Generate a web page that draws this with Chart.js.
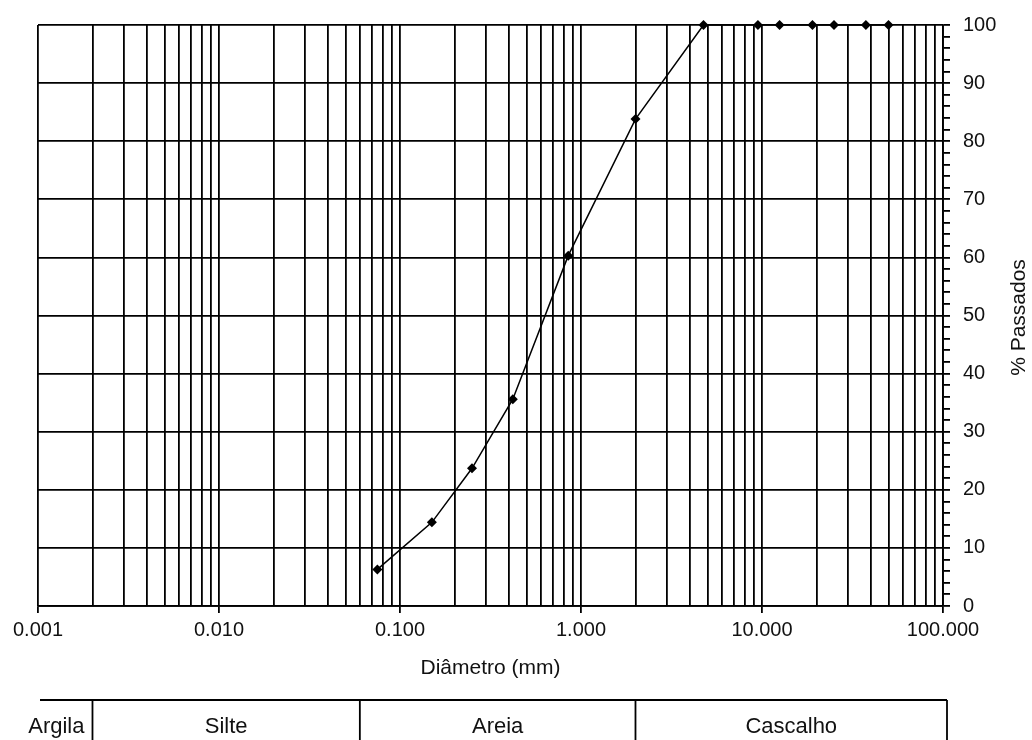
<!DOCTYPE html>
<html>
<head>
<meta charset="utf-8">
<title>Curva granulométrica</title>
<script src="https://cdn.jsdelivr.net/npm/chart.js@4"></script>
<style>
  html, body { margin: 0; padding: 0; background: #fff; }
  #grafico { display: block; }
</style>
</head>
<body>
<canvas id="grafico" width="1032" height="740"></canvas>
<script>
// Abertura das peneiras (mm) e porcentagem acumulada que passa
const diametros = [0.075, 0.15, 0.25, 0.42, 0.85, 2.0, 4.75, 9.5, 12.5, 19, 25, 37.5, 50];
const passados  = [6.3, 14.4, 23.7, 35.6, 60.3, 83.8, 100, 100, 100, 100, 100, 100, 100];

// Décadas do eixo logarítmico e subdivisões de cada década
const decadas = [0.001, 0.01, 0.1, 1, 10, 100];
const multiplicadores = [1, 2, 3, 4, 5, 6, 7, 8, 9];

// Faixa de classificação do solo e seus limites (mm)
const classes = ['Argila', 'Silte', 'Areia', 'Cascalho'];
const limites = [0.002, 0.06, 2.0];

const FONTE = '"Liberation Sans", Arial, sans-serif';
const COR_TEXTO = '#111';
const ESPESSURA_GRADE = 1.8;
Chart.defaults.font.family = FONTE;

const gradeX = decadas.slice(0, -1)
  .flatMap(d => multiplicadores.map(m => +(d * m).toPrecision(6)))
  .concat(decadas.slice(-1));

const ehDecada = v => {
  const l = Math.log10(v);
  return Math.abs(l - Math.round(l)) < 1e-6;
};

// Tabela de classificação abaixo do eixo e título vertical do eixo da direita
const tabela = {
  id: 'tabela',
  afterDraw(chart) {
    const ctx = chart.ctx;
    const x = chart.scales.x;
    const area = chart.chartArea;
    const topo = 700, base = 740;
    const esq = area.left + 2, dir = area.right + 4;
    const divisoes = limites.map(v => x.getPixelForValue(v));

    ctx.save();
    ctx.strokeStyle = '#000';
    ctx.lineWidth = ESPESSURA_GRADE;
    ctx.beginPath();
    ctx.moveTo(esq, topo);
    ctx.lineTo(dir, topo);
    [...divisoes, dir].forEach(px => {
      ctx.moveTo(px, topo);
      ctx.lineTo(px, base);
    });
    ctx.stroke();

    ctx.font = '22px ' + FONTE;
    ctx.fillStyle = COR_TEXTO;
    ctx.textBaseline = 'middle';
    const bordas = [esq, ...divisoes, dir];
    classes.forEach((c, i) => {
      if (i === 0) {
        ctx.textAlign = 'right';
        ctx.fillText(c, bordas[1] - 8, 727);
      } else {
        ctx.textAlign = 'center';
        ctx.fillText(c, (bordas[i] + bordas[i + 1]) / 2, 727);
      }
    });

    ctx.translate(1019, (area.top + area.bottom) / 2 + 2);
    ctx.rotate(-Math.PI / 2);
    ctx.font = '21px ' + FONTE;
    ctx.textAlign = 'center';
    ctx.fillText('% Passados', 0, 0);
    ctx.restore();
  }
};

new Chart(document.getElementById('grafico'), {
  type: 'line',
  data: {
    datasets: [{
      data: diametros.map((d, i) => ({ x: d, y: passados[i] })),
      borderColor: '#000',
      borderWidth: 1.5,
      tension: 0,
      pointStyle: 'rectRot',
      pointRadius: 5,
      pointBackgroundColor: '#000',
      pointBorderColor: '#000',
      pointBorderWidth: 0,
      clip: false
    }]
  },
  options: {
    responsive: false,
    animation: false,
    devicePixelRatio: 1,
    layout: { padding: { left: 38, top: 23, right: 0, bottom: 40 } },
    plugins: { legend: { display: false }, tooltip: { enabled: false } },
    scales: {
      x: {
        type: 'logarithmic',
        position: 'bottom',
        min: 0.001,
        max: 100,
        afterBuildTicks: s => { s.ticks = gradeX.map(v => ({ value: v })); },
        afterFit: s => { s.height = 94; },
        grid: {
          color: '#000',
          lineWidth: ESPESSURA_GRADE,
          tickLength: 7,
          tickColor: c => (c.tick && ehDecada(c.tick.value)) ? '#000' : 'rgba(0,0,0,0)'
        },
        border: { color: '#000', width: ESPESSURA_GRADE },
        ticks: {
          autoSkip: false,
          maxRotation: 0,
          minRotation: 0,
          padding: 5,
          color: COR_TEXTO,
          font: { size: 20 },
          callback: v => ehDecada(v) ? v.toFixed(3) : ''
        },
        title: {
          display: true,
          text: 'Diâmetro (mm)',
          color: COR_TEXTO,
          font: { size: 21 },
          padding: { top: 0, bottom: 19 }
        }
      },
      y: {
        type: 'linear',
        position: 'right',
        min: 0,
        max: 100,
        afterFit: s => { s.width = 89; },
        grid: {
          color: c => (c.tick && c.tick.value % 10 === 0) ? '#000' : 'rgba(0,0,0,0)',
          lineWidth: ESPESSURA_GRADE,
          tickLength: 7,
          tickColor: '#000'
        },
        border: { color: '#000', width: ESPESSURA_GRADE },
        ticks: {
          stepSize: 2,
          autoSkip: false,
          maxTicksLimit: 1000,
          padding: 13,
          color: COR_TEXTO,
          font: { size: 20 },
          callback: v => v % 10 === 0 ? String(v) : ''
        }
      }
    }
  },
  plugins: [tabela]
});
</script>
</body>
</html>
